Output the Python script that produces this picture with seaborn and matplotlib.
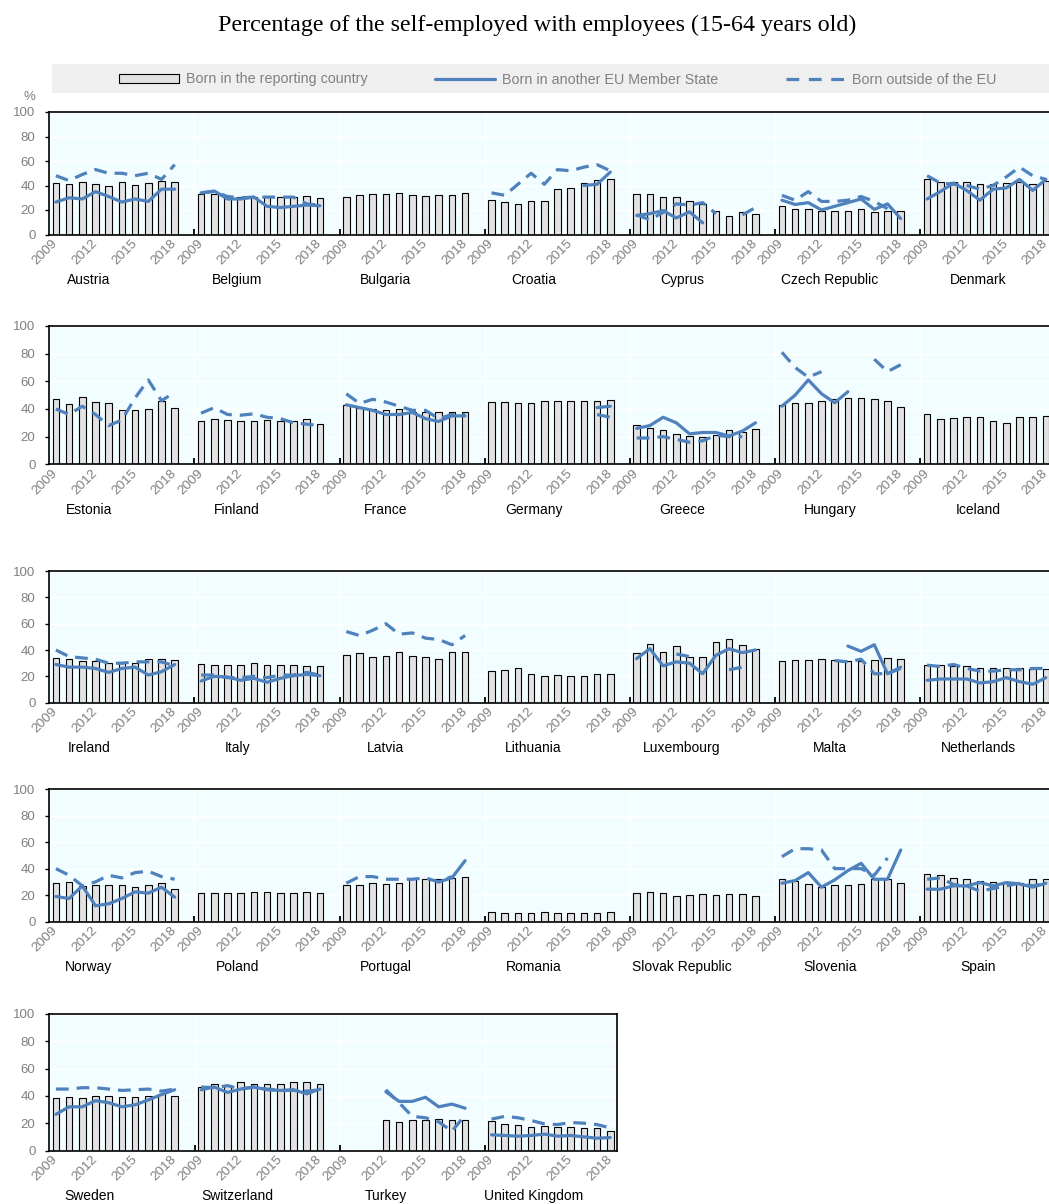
import numpy as np
import pandas as pd
import matplotlib
matplotlib.use("Agg")
import matplotlib.pyplot as plt
import seaborn as sns
from matplotlib.lines import Line2D
from matplotlib.patches import Patch, Rectangle

nan = np.nan

title = "Percentage of the self-employed with employees (15-64 years old)"
years = [2009, 2010, 2011, 2012, 2013, 2014, 2015, 2016, 2017, 2018]
tick_years = [2009, 2012, 2015, 2018]

countries = [
    "Austria", "Belgium", "Bulgaria", "Croatia", "Cyprus", "Czech Republic", "Denmark",
    "Estonia", "Finland", "France", "Germany", "Greece", "Hungary", "Iceland",
    "Ireland", "Italy", "Latvia", "Lithuania", "Luxembourg", "Malta", "Netherlands",
    "Norway", "Poland", "Portugal", "Romania", "Slovak Republic", "Slovenia", "Spain",
    "Sweden", "Switzerland", "Turkey", "United Kingdom",
]

# born in the reporting country (bars)
native = [
    [42, 41, 42.5, 41.5, 40, 42.5, 40.5, 42, 44, 42.5],
    [33, 33, 31, 31, 31, 31.5, 31, 31, 31.5, 30],
    [31, 32.5, 33, 33, 34, 32, 31.5, 32, 32.5, 34],
    [28.5, 26.5, 25, 27, 27, 37.5, 38, 42, 44.5, 45.5],
    [33, 33, 31, 30.5, 27, 24.5, 19, 15.5, 18, 17],
    [23.5, 21, 20.5, 19, 19.5, 19.5, 20.5, 18.5, 19, 19],
    [45, 43, 43, 42.5, 41, 41.5, 42, 42.5, 41.5, 44],
    [47.5, 43.5, 49, 45, 44, 39, 39, 40, 46, 41],
    [31.5, 33, 32, 31.5, 31.5, 32, 31.5, 31, 32.5, 29.5],
    [43, 41, 40, 39, 40, 38, 38, 38, 37.5, 37.5],
    [45, 45, 44.5, 44.5, 45.5, 45.5, 46, 46, 46, 46.5],
    [28.5, 26.5, 25, 22, 20.5, 20, 21, 24.5, 23, 25.5],
    [43, 44.5, 44.5, 45.5, 47, 48, 48, 47, 46, 41.5],
    [36.5, 33, 33.5, 34, 34, 31.5, 30, 34.5, 34.5, 35],
    [34, 33, 31.5, 31.5, 30.5, 30, 30.5, 33, 33, 32.5],
    [29.5, 29, 29, 28.5, 30, 28.5, 29, 29, 28, 28],
    [36, 38, 35, 35.5, 38.5, 35.5, 35, 33.5, 38.5, 38.5],
    [24, 25, 26, 22, 20, 21, 20, 20.5, 21.5, 21.5],
    [38, 44.5, 38.5, 43, 35, 35, 46, 48, 44, 40.5],
    [31.5, 32.5, 32.5, 33, 32.5, 31.5, 31.5, 32.5, 34, 33],
    [29, 28.5, 28, 27.5, 26.5, 26.5, 26, 26, 25.5, 25.5],
    [29.5, 30, 27, 27.5, 28, 28, 26, 27.5, 29, 25],
    [22, 22, 22, 22, 22.5, 22.5, 21.5, 21.5, 22.5, 22],
    [28, 28, 29.5, 28.5, 29, 32, 32.5, 32, 33, 34],
    [7.5, 6.5, 6.5, 6.5, 7, 6.5, 6.5, 6.5, 6.5, 7],
    [22, 22.5, 22, 19.5, 20, 20.5, 20, 20.5, 20.5, 19],
    [32.5, 31, 28.5, 26, 27.5, 28, 28.5, 32, 32, 29],
    [36, 35, 33, 32, 30.5, 30, 29.5, 29.5, 32, 32],
    [38.5, 39, 38.5, 40, 40, 39, 39, 40, 41.5, 40],
    [46.5, 49, 48, 50.5, 49, 49, 49, 50, 50, 49],
    [nan, nan, nan, 22, 21, 22, 22, 23, 22, 22],
    [21.5, 19.5, 18.5, 17.5, 18, 17.5, 17, 16.5, 16.5, 14.5],
]

# born in another EU member state (solid line)
eu_born = [
    [26.5, 30, 29, 35, 31, 26.5, 29, 27, 37, 37],
    [34, 35.5, 29, 29, 30.5, 23, 22, 23, 24, 23.5],
    [nan] * 10,
    [nan, nan, nan, nan, nan, nan, nan, 40, 41, 51],
    [15.5, 17, 19.5, 13.5, 18.5, 9.5, nan, nan, nan, nan],
    [28, 24.5, 26, 20, 23, 26, 29, 20.5, 25, 13],
    [29, 35, 42, 36, 28, 37, 38, 45, 36, 45],
    [nan] * 10,
    [nan] * 10,
    [43, 41, 39, 36, 36, 37.5, 33, 31, 35, 35],
    [nan, nan, nan, nan, nan, nan, nan, nan, 41, 42],
    [26, 28, 34, 30, 22, 23, 23, 20.5, 24, 30],
    [42, 50, 61, 51, 44.5, 52.5, nan, nan, nan, nan],
    [nan] * 10,
    [29, 27, 27, 26, 23, 26, 27, 21, 23.5, 29],
    [16.5, 20, 19.5, 17, 18.5, 15.5, 18.5, 20.5, 21.5, 20.5],
    [nan] * 10,
    [nan] * 10,
    [33.5, 41, 28, 31, 30, 22, 36, 41, 38, 40],
    [nan, nan, nan, nan, nan, 43, 39, 44, 22, 27],
    [17, 18, 18, 18, 15, 16, 19, 16, 14, 19],
    [19, 17.5, 27, 12, 13.5, 17.5, 22.5, 21.5, 26, 18.5],
    [nan] * 10,
    [nan, nan, nan, nan, nan, nan, nan, 30, 33, 46],
    [nan] * 10,
    [nan] * 10,
    [29, 31, 37, 26, 31.5, 38.5, 44, 32, 32, 54],
    [24.5, 24.5, 27, 27, 29.5, 27, 29.5, 28.5, 26, 29],
    [26.5, 32, 32, 36.5, 35, 32, 33.5, 37, 41, 44.5],
    [44.5, 46.5, 42.5, 45, 46.5, 44.5, 44, 44.5, 41.5, 45],
    [nan, nan, nan, 43, 36, 36, 39, 32, 34, 31],
    [11.5, 11, 10.5, 11, 12, 10.5, 11, 10, 9, 9.5],
]

# born outside of the EU (dashed line)
non_eu = [
    [48, 44, 49, 53, 50, 50, 48, 50, 45, 57],
    [34, 35, 31, 30, 30.5, 30.5, 30.5, 30.5, 25, 24],
    [nan] * 10,
    [34, 32, 41, 50, 41, 53, 52, 55, 57, 52],
    [16, 12, 18, 25, 24, 26, 17, nan, 16, 22],
    [32, 28, 35, 27, 27, 28, 31, 27, 21, nan],
    [48, 42, 41, 40, 37, 40, 47, 55, 48, 45],
    [40, 36, 42, 36, 28, 32, 48, 61, 46, 52],
    [37, 41, 36, 35.5, 36.5, 34, 33, 30, 29, 28],
    [51, 44, 47, 45, 42, 39, 39, 33, 36, 36],
    [nan, nan, nan, nan, nan, nan, nan, nan, 36, 34],
    [19, 19, 20, 18, 16, 17, 21, 20, 20, nan],
    [81, 70, 63, 67, nan, nan, nan, 76, 67, 72],
    [nan] * 10,
    [40, 35, 34, 33, 30, 30, 31, 31, 31, 28],
    [21, 21, 19, 19, 20, 19, 21, 21, 23, 21],
    [54, 51, 55, 60, 52, 53, 49, 48, 44, 51],
    [nan] * 10,
    [nan, nan, nan, 37, 35, nan, nan, 25, 27, nan],
    [nan, nan, nan, nan, 32, 31, 33, 22, 22, 26],
    [28.5, 27.5, 29, 26, 24, 24, 25, 25, 26, 26],
    [40, 35, 27, 30, 35, 33, 37, 38, 34, 32],
    [nan] * 10,
    [29, 34, 34, 32, 32, 32, 33, 30, 34, nan],
    [nan] * 10,
    [nan] * 10,
    [49, 55, 55, 54, 40, 40, 40, 35, 48, nan],
    [32, 33, 28, 27, 23, 25, 27, 29, 27, 29],
    [45, 45, 46, 46, 45, 44, 44.5, 45, 43.5, 45],
    [46.5, 46, 47.5, 45, 46.5, 45, 44, 44, 43.5, 44.5],
    [nan, nan, nan, 44.5, 35, 25, 24, 21, 14, 26],
    [23, 25, 24, 22, 19.5, 19, 20.5, 20, 19, 16.5],
]

legend_labels = ["Born in the reporting country", "Born in another EU Member State",
                 "Born outside of the EU"]

# layout of the original (pixels)
W, H = 1049, 1204
per_row = 7
group = 11            # 10 years + 1 empty slot
slot_px = 13.2
left_px = 49.3
rows_px = [(112, 234.5), (326, 464.3), (571, 702.7), (789, 921.7), (1014, 1150.5)]
blue = "#4F81BD"
bar_fill = "#E2E2E2"
grey_txt = "#808080"
dash = (0, (4, 2.5))

# long table
recs = []
for i, c in enumerate(countries):
    r, col = divmod(i, per_row)
    for k, y in enumerate(years):
        recs.append(dict(country=c, row=r, col=col, year=y, pos=col * group + k,
                         native=native[i][k], eu=eu_born[i][k], non_eu=non_eu[i][k]))
df = pd.DataFrame(recs)
# split lines at missing values
for s in ["eu", "non_eu"]:
    seg = df.groupby("country")[s].transform(lambda v: v.isna().cumsum())
    df[s + "_unit"] = df["country"] + "_" + seg.astype(str)

sns.set_theme(style="ticks")
plt.rcParams["font.family"] = ["Liberation Sans", "DejaVu Sans"]

fig = plt.figure(figsize=(W / 100, H / 100), dpi=100)

for r, (top, bot) in enumerate(rows_px):
    d = df[df.row == r]
    n = d.country.nunique()
    nslots = n * group - 1
    ax = fig.add_axes([left_px / W, 1 - bot / H, nslots * slot_px / W, (bot - top) / H])
    ax.set_facecolor("#F2FDFF")

    sns.barplot(data=d.dropna(subset=["native"]), x="pos", y="native", native_scale=True,
                width=0.5, color=bar_fill, saturation=1, edgecolor="black", linewidth=0.8,
                errorbar=None, ax=ax, zorder=2)
    sns.lineplot(data=d, x="pos", y="eu", units="eu_unit", estimator=None, color=blue,
                 lw=2.3, ax=ax, legend=False, zorder=3)
    sns.lineplot(data=d, x="pos", y="non_eu", units="non_eu_unit", estimator=None, color=blue,
                 lw=2.3, linestyle=dash, ax=ax, legend=False, zorder=3)

    ax.set_xlim(-0.5, nslots - 0.5)
    ax.set_ylim(0, 100)
    ax.set_yticks(range(0, 101, 20))
    major = [g * group + (y - years[0]) for g in range(n) for y in tick_years]
    ax.set_xticks(major)
    ax.set_xticklabels([str(y) for g in range(n) for y in tick_years])
    ax.set_xticks([g * group + 10.5 for g in range(n - 1)], minor=True)
    ax.set_xlabel("")
    ax.set_ylabel("")
    ax.set_axisbelow(True)
    ax.grid(axis="y", color="white", lw=1)
    ax.grid(axis="x", which="minor", color="white", lw=1)
    for sp in ax.spines.values():
        sp.set_visible(True)
        sp.set_color("black")
        sp.set_linewidth(1.2)

    ax.tick_params(axis="y", length=3, width=1, color="black", labelcolor=grey_txt,
                   labelsize=9.5, pad=7, left=True)
    ax.tick_params(axis="x", which="major", length=0, labelcolor=grey_txt, labelsize=9.7,
                   pad=5, bottom=True)
    ax.tick_params(axis="x", which="minor", direction="in", length=4, width=1.3,
                   color="black", bottom=True)
    for lab in ax.get_xticklabels():
        lab.set_rotation(45)
        lab.set_ha("right")
        lab.set_va("center")
        lab.set_rotation_mode("anchor")

    for col, c in enumerate(d.country.unique()):
        fig.text((89 + 148.2 * col) / W, 1 - (bot + 45.5) / H, c, ha="center", va="center",
                 fontsize=10, color="black")

# title, legend band, unit
fig.text(537.5 / W, 1 - 25 / H, title, ha="center", va="center", fontsize=17.3,
         family=["Liberation Serif", "DejaVu Serif"], color="black")
fig.patches.append(Rectangle((52 / W, 1 - 93 / H), (W - 52) / W, 29 / H,
                             transform=fig.transFigure, facecolor="#EFEFEF",
                             edgecolor="none", zorder=0))
handles = [Patch(facecolor=bar_fill, edgecolor="black", lw=0.8),
           Line2D([], [], color=blue, lw=2.3),
           Line2D([], [], color=blue, lw=2.3, linestyle=(0, (4, 3)))]
fig.legend(handles, legend_labels, loc="center left", bbox_to_anchor=(119 / W, 1 - 79.5 / H),
           ncol=3, frameon=False, fontsize=10.3, handlelength=4.2, handleheight=0.6,
           handletextpad=0.45, columnspacing=4.75, borderpad=0, borderaxespad=0,
           labelcolor=grey_txt)
fig.text(29 / W, 1 - 97 / H, "%", ha="center", va="center", color=grey_txt, fontsize=9.5)

fig.savefig("out.png", dpi=100)
